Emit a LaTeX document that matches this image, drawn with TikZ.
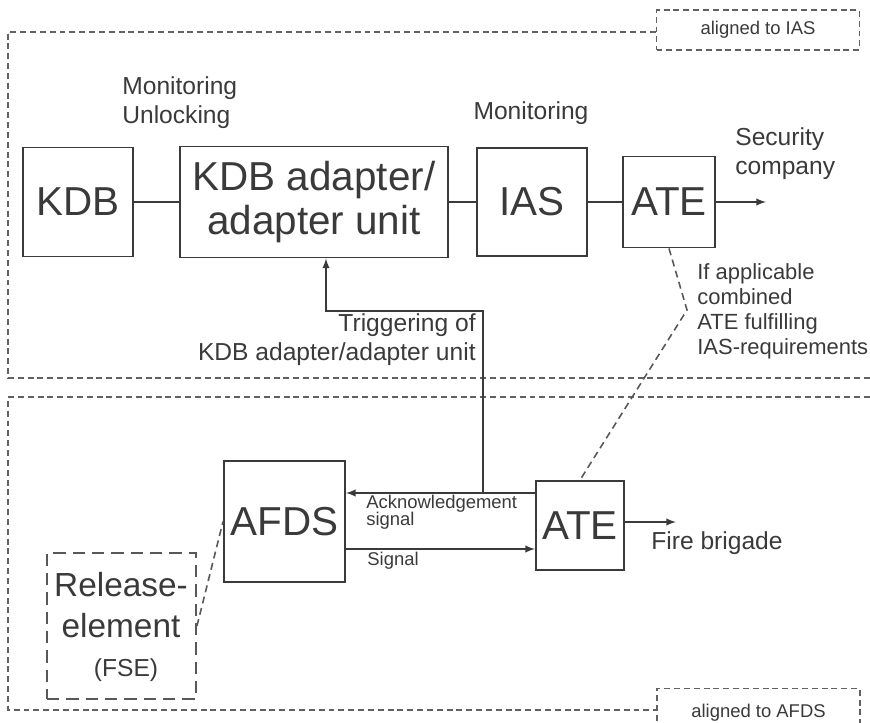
\documentclass[tikz,border=0pt]{standalone}
\usepackage{fontspec}
\setmainfont{Liberation Sans}
\usetikzlibrary{arrows}

\definecolor{ink}{HTML}{3A3A3A}
\tikzset{
  block/.style={draw=ink, line width=1.1pt, text=ink, inner sep=0pt,
    align=center, font=\fontsize{23}{25}\selectfont},
  zone/.style={draw=ink!80, line width=0.8pt, dash pattern=on 3.4pt off 2.2pt},
  tag/.style={zone, fill=white, text=ink, minimum width=4.06cm,
    font=\fontsize{10.5}{12}\selectfont},
  link/.style={draw=ink!85, line width=0.9pt, dash pattern=on 4pt off 2.6pt},
  lbl/.style={text=ink, inner sep=0pt, font=\fontsize{14}{16.5}\selectfont},
  wire/.style={draw=ink, line width=0.9pt}
}

\begin{document}
\begin{tikzpicture}[x=0.02cm,y=-0.02cm]
\useasboundingbox (0,0) rectangle (870,723);

% areas
\node[tag, minimum height=0.8cm] (iastag) at (758,30) {aligned to IAS};
\draw[zone] (iastag.west |- 0,32) -- (8,32) -- (8,378) -- (870,378);
\node[tag, minimum height=1cm, anchor=north] (afdstag) at (758.5,688) {};
\node[text=ink, font=\fontsize{10.5}{12}\selectfont] at (758.5,713) {aligned to AFDS};
\draw[zone] (870,397) -- (8,397) -- (8,710) -- (afdstag.west |- 0,710);

% upper row
\node[block, minimum width=2.2cm, minimum height=2.18cm] (kdb) at (78,202) {KDB};
\node[block, minimum width=5.36cm, minimum height=2.22cm] (adapter) at (314,202) {KDB adapter/\\adapter unit};
\node[block, minimum width=2.2cm, minimum height=2.16cm] (ias) at (532,202) {IAS};
\node[block, minimum width=1.84cm, minimum height=1.82cm] (ate1) at (669,202) {ATE};
\coordinate (secco) at (766,202);

\draw[wire] (kdb) -- (adapter);
\draw[wire] (adapter) -- (ias);
\draw[wire] (ias) -- (ate1);
\draw[wire, -latex] (ate1) -- (secco);

\node[lbl, anchor=west, align=left] (mon1) at (122,103) {Monitoring\\Unlocking};
\node[lbl] (mon2) at (531,113) {Monitoring};
\node[lbl, anchor=west, align=left] (sec) at (735,154) {Security\\company};

% lower row
\node[block, minimum width=2.42cm, minimum height=2.42cm] (afds) at (284.5,521.5) {AFDS};
\node[block, minimum width=1.76cm, minimum height=1.78cm] (ate2) at (580,525.5) {ATE};
\node[block, draw=ink!85, dash pattern=on 7pt off 4pt, minimum width=2.98cm,
  minimum height=2.92cm] (release) at (121.5,626) {};
\node[text=ink, align=center, font=\fontsize{19}{23}\selectfont] (reltext) at (121,605) {Release-\\element};
\node[text=ink, font=\fontsize{14}{16}\selectfont] (fse) at (126,670) {(FSE)};
\coordinate (fire) at (676,522);

\coordinate (ack) at (483,493);
\coordinate (sig) at (0,549);
\coordinate (trig) at (326,311);
\draw[wire, -latex] (ate2.west |- ack) -- (afds.east |- ack);
\draw[wire, -latex] (afds.east |- sig) -- (ate2.west |- sig);
\draw[wire, -latex] (ack) |- (trig) -- (trig |- adapter.south);
\draw[wire, -latex] (ate2.east |- fire) -- (fire);

\node[text=ink, anchor=west, align=left, inner sep=0pt,
  font=\fontsize{10.5}{9.8}\selectfont] (acktext) at (366,512) {Acknowledgement\\signal};
\node[text=ink, anchor=west, inner sep=0pt, font=\fontsize{10.5}{12}\selectfont] (sigtext) at (367,561) {Signal};
\node[lbl, anchor=west] (firetext) at (651,543) {Fire brigade};
\node[lbl, anchor=east, align=right] (trigtext) at (476,340) {Triggering of\\KDB adapter/adapter unit};

% combined ATE
\coordinate (bend) at (687,310);
\draw[link] (ate1.south) -- (bend) -- (ate2.north);
\draw[link] (release.east) -- (afds.west);
\node[text=ink, anchor=west, align=left, inner sep=0pt,
  font=\fontsize{12.5}{14.2}\selectfont] (combi) at (697,311) {If applicable\\combined\\ATE fulfilling\\IAS-requirements};
\end{tikzpicture}
\end{document}
